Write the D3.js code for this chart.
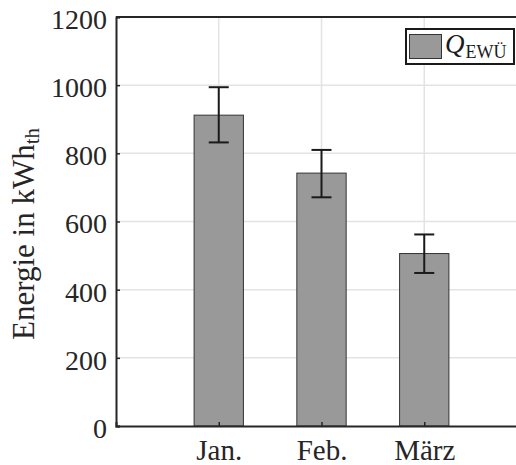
<!DOCTYPE html>
<html><head><meta charset="utf-8">
<script src="https://cdn.jsdelivr.net/npm/d3@7"></script>
<style>body{margin:0;background:#fff}svg{display:block}</style>
</head><body>
<script>
const categories = ["Jan.", "Feb.", "März"];
const values = [912, 742, 506];
const errLow = [832, 671, 449];
const errHigh = [994, 810, 562];
const yTicks = [0, 200, 400, 600, 800, 1000, 1200];

const W = 516, H = 465;
const FONT = "Liberation Serif";
const svg = d3.select("body").append("svg").attr("width", W).attr("height", H)
  .attr("font-family", FONT);

const x = d3.scaleLinear().domain([0, 4]).range([116, 527]);
const y = d3.scaleLinear().domain([0, 1200]).range([426, 17]);
const data = categories.map((c, i) => ({c, i: i + 1, v: values[i], lo: errLow[i], hi: errHigh[i]}));

// grid
svg.append("g").selectAll("line").data(yTicks.slice(1)).join("line")
  .attr("x1", x(0)).attr("x2", W).attr("y1", d => y(d)).attr("y2", d => y(d))
  .attr("stroke", "#e3e3e3").attr("stroke-width", 1.5);
svg.append("g").selectAll("line").data(data).join("line")
  .attr("x1", d => x(d.i)).attr("x2", d => x(d.i)).attr("y1", y(0)).attr("y2", y(1200))
  .attr("stroke", "#e3e3e3").attr("stroke-width", 1.5);

// bars
const bw = 0.48;
svg.append("g").selectAll("rect").data(data).join("rect")
  .attr("x", d => x(d.i - bw / 2)).attr("width", x(bw) - x(0))
  .attr("y", d => y(d.v)).attr("height", d => y(0) - y(d.v))
  .attr("fill", "#999999").attr("stroke", "#333").attr("stroke-width", 1);

// error bars
const eg = svg.append("g").attr("stroke", "#1a1a1a").attr("stroke-width", 2);
data.forEach(d => {
  eg.append("line").attr("x1", x(d.i)).attr("x2", x(d.i)).attr("y1", y(d.lo)).attr("y2", y(d.hi));
  eg.append("line").attr("x1", x(d.i) - 10).attr("x2", x(d.i) + 10).attr("y1", y(d.lo)).attr("y2", y(d.lo));
  eg.append("line").attr("x1", x(d.i) - 10).attr("x2", x(d.i) + 10).attr("y1", y(d.hi)).attr("y2", y(d.hi));
});

// axes
const yAxis = d3.axisLeft(y).tickValues(yTicks).tickSize(-4).tickPadding(9).tickFormat(d3.format("d"));
const gy = svg.append("g").attr("transform", `translate(${x(0)},0)`).call(yAxis);
const xAxis = d3.axisBottom(x).tickValues(data.map(d => d.i)).tickSize(-4).tickPadding(13)
  .tickFormat((d, i) => categories[i]);
const gx = svg.append("g").attr("transform", `translate(0,${y(0)})`).call(xAxis);
[gy, gx].forEach(g => {
  g.attr("font-family", FONT);
  g.select(".domain").attr("stroke", "#262626").attr("stroke-width", 2);
  g.selectAll(".tick line").attr("stroke", "#262626").attr("stroke-width", 1.5);
  g.selectAll("text").attr("font-family", FONT).attr("fill", "#262626");
});
gy.selectAll("text").attr("font-size", 28).attr("dy", "0.41em");
gx.selectAll("text").attr("font-size", 29).attr("dy", "0.72em");
// top border
svg.append("line").attr("x1", x(0)).attr("x2", W).attr("y1", y(1200)).attr("y2", y(1200))
  .attr("stroke", "#262626").attr("stroke-width", 2);

// y label
const yl = svg.append("text").attr("transform", "translate(34,234) rotate(-90)")
  .attr("text-anchor", "middle").attr("font-family", FONT).attr("font-size", 31).attr("fill", "#262626");
yl.append("tspan").text("Energie in kWh");
yl.append("tspan").attr("font-size", 21).attr("dy", 5).text("th");

// legend
const lg = svg.append("g");
lg.append("rect").attr("x", 406).attr("y", 29).attr("width", 108).attr("height", 35)
  .attr("fill", "#fff").attr("stroke", "#1a1a1a").attr("stroke-width", 2);
lg.append("rect").attr("x", 409.5).attr("y", 34.5).attr("width", 32).attr("height", 24)
  .attr("fill", "#999999").attr("stroke", "#333").attr("stroke-width", 1);
const lt = lg.append("text").attr("x", 445).attr("y", 53).attr("font-family", FONT).attr("fill", "#1a1a1a");
lt.append("tspan").attr("font-style", "italic").attr("font-size", 27).text("Q");
lt.append("tspan").attr("font-size", 18).attr("dy", 5).attr("dx", 1).text("EWÜ");
</script>
</body></html>
